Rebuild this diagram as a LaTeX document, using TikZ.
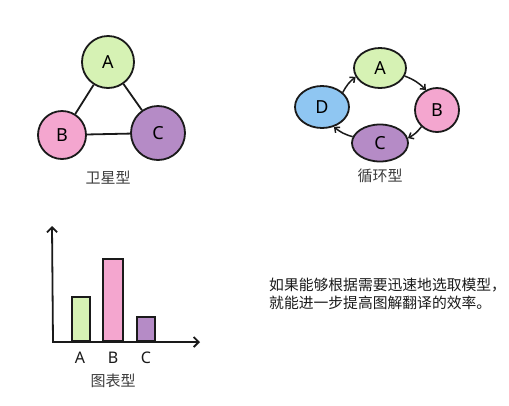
\documentclass[tikz,border=0pt]{standalone}
\usepackage{fontspec}
\setmainfont{Noto Sans CJK SC}
\newfontfamily\lettfont{Noto Sans}
\usepackage{tikz}
\usetikzlibrary{shapes.geometric, arrows.meta, positioning}

\definecolor{agreen}{HTML}{D6F2B4}
\definecolor{bpink}{HTML}{F4A6CF}
\definecolor{cpurple}{HTML}{B58BC6}
\definecolor{dblue}{HTML}{8FC6F2}
\definecolor{ink}{HTML}{1A1A1A}

\begin{document}
\begin{tikzpicture}[x=1pt, y=-1pt,
    satnode/.style={circle, draw=ink, line width=1.8pt, inner sep=0pt, font=\lettfont\fontsize{18}{18}\selectfont},
    cycnode/.style={ellipse, draw=ink, line width=1.8pt, inner sep=0pt, font=\lettfont\fontsize{18}{18}\selectfont},
    link/.style={draw=ink, line width=1.8pt},
    cycarrow/.style={draw=ink, line width=1.5pt, -{Straight Barb[length=4pt, width=7pt]}},
    axisline/.style={draw=ink, line width=1.8pt, {Straight Barb[length=5pt, width=10pt]}-{Straight Barb[length=5pt, width=10pt]}},
    barbox/.style={draw=ink, line width=1.8pt, inner sep=0pt, anchor=south, minimum width=18pt},
    caption/.style={font=\fontsize{15}{15}\selectfont, text=ink!85},
    barlabel/.style={font=\lettfont\fontsize{16}{16}\selectfont, text=ink}]
    \useasboundingbox[fill=white] (0,0) rectangle (509,405);

    % satellite type
    \node[satnode, fill=agreen, minimum size=52pt] (sA) at (108,62) {A};
    \node[satnode, fill=bpink, minimum size=48pt] (sB) at (62,135) {B};
    \node[satnode, fill=cpurple, minimum size=54pt] (sC) at (158,133) {C};
    \draw[link] (sA) -- (sB);
    \draw[link] (sA) -- (sC);
    \draw[link] (sB) -- (sC);
    \node[caption] (satcap) at (108,178) {卫星型};

    % cycle type
    \node[cycnode, fill=agreen, minimum width=52pt, minimum height=40pt] (cA) at (380,68) {A};
    \node[cycnode, fill=bpink, minimum width=44pt, minimum height=44pt] (cB) at (437,110) {B};
    \node[cycnode, fill=cpurple, minimum width=56pt, minimum height=37pt] (cC) at (380,143) {C};
    \node[cycnode, fill=dblue, minimum width=54pt, minimum height=42pt] (cD) at (322,107) {D};
    \draw[cycarrow] (cD.35) to[bend left=12] (cA.200);
    \draw[cycarrow] (cA.342) to[bend left=12] (cB.119);
    \draw[cycarrow] (cB.227) to[bend left=12] (cC.10);
    \draw[cycarrow] (cC.167) to[bend left=12] (cD.301);
    \node[caption] (cyccap) at (380,176) {循环型};

    % chart type
    \coordinate (origin) at (53,342);
    \coordinate (ytop) at (52,226);
    \coordinate (xend) at (200,342);
    \node[barbox, fill=agreen, minimum height=44pt] (barA) at (81,342) {};
    \node[barbox, fill=bpink, minimum height=82pt, minimum width=20pt] (barB) at (113,342) {};
    \node[barbox, fill=cpurple, minimum height=24pt] (barC) at (146,342) {};
    \draw[axisline] (ytop) -- (origin) -- (xend);
    \node[barlabel] (labA) at (80,358) {A};
    \node[barlabel] (labB) at (113,358) {B};
    \node[barlabel] (labC) at (146,358) {C};
    \node[caption] (chartcap) at (113,381) {图表型};

    % note
    \node[anchor=west, align=left, inner sep=0pt, text=ink, font=\fontsize{14.8}{18.5}\selectfont] (note) at (269,294)
        {如果能够根据需要迅速地选取模型，\\就能进一步提高图解翻译的效率。};
\end{tikzpicture}
\end{document}
